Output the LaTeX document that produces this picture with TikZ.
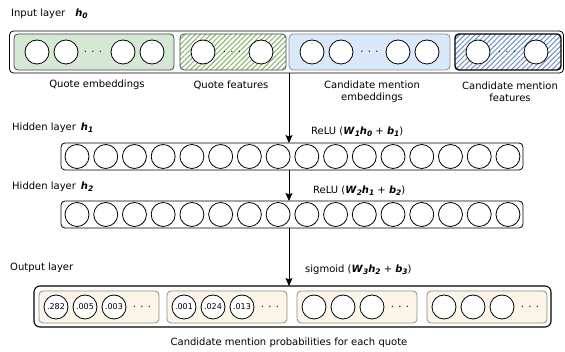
\documentclass[tikz,border=0pt]{standalone}
\usepackage{fontspec}
\setmainfont{DejaVu Sans}
\usetikzlibrary{arrows.meta,patterns.meta}
\definecolor{qgreen}{HTML}{D5E8D4}
\definecolor{hgreen}{HTML}{82B366}
\definecolor{qblue}{HTML}{DAE8FC}
\definecolor{hblue}{HTML}{6C8EBF}
\definecolor{cream}{HTML}{FDF5E8}
\definecolor{boxgray}{HTML}{8C8C8C}
\definecolor{darkline}{HTML}{444444}
\newcommand\bv[2]{\textbf{\textit{#1}}\raisebox{-0.3ex}{\fontsize{7.5}{8}\selectfont\bfseries\itshape #2}}
\begin{document}
\begin{tikzpicture}[x=1pt,y=-1pt,
  neuron/.style={circle,draw=black,line width=0.8pt,fill=white,minimum size=24pt,inner sep=0pt},
  oneuron/.style={neuron,minimum size=24pt,font=\fontsize{8}{9}\selectfont},
  lbl/.style={inner sep=0pt,font=\fontsize{10}{12}\selectfont},
  dotsnode/.style={inner sep=0pt,font=\fontsize{10}{12}\selectfont},
  panel/.style={rectangle,rounded corners=4pt,inner sep=0pt,outer sep=0pt,line width=0.8pt},
  hatchgreen/.style={pattern={Lines[angle=45,distance=3.6pt,line width=1pt]},pattern color=hgreen},
  hatchblue/.style={pattern={Lines[angle=45,distance=3.6pt,line width=1pt]},pattern color=hblue},
  flow/.style={-{Stealth[length=8pt,width=7pt,inset=1.5pt]},line width=0.8pt}
]
\useasboundingbox (0,0) rectangle (565,352);

% ---------- input layer ----------
\node[lbl,anchor=west] (inlbl) at (11,14) {Input layer\hspace{10pt}\bv{h}{0}};
\node[panel,draw=black,minimum width=554pt,minimum height=42pt] (inbox) at (286.5,52) {};
\node[panel,draw=darkline,fill=qgreen,minimum width=160pt,minimum height=36pt] (qe) at (94,52) {};
\node[panel,draw=darkline,hatchgreen,minimum width=106pt,minimum height=36pt] (qf) at (233,52) {};
\node[panel,draw=boxgray,fill=qblue,minimum width=161pt,minimum height=36pt] (ce) at (369.5,52) {};
\node[panel,draw=black,line width=1.4pt,hatchblue,minimum width=106pt,minimum height=36pt] (cf) at (508,52) {};

\foreach \x [count=\k] in {37,66,123,152} \node[neuron] (qen\k) at (\x,52) {};
\node[dotsnode] (qed) at (93,52) {. . .};
\foreach \x [count=\k] in {203,261} \node[neuron] (qfn\k) at (\x,52) {};
\node[dotsnode] (qfd) at (232,52) {. . .};
\foreach \x [count=\k] in {312,341,398,427} \node[neuron] (cen\k) at (\x,52) {};
\node[dotsnode] (ced) at (369.5,52) {. . .};
\foreach \x [count=\k] in {478,536} \node[neuron] (cfn\k) at (\x,52) {};
\node[dotsnode] (cfd) at (507,52) {. . .};

\node[lbl] (qelbl) at (97,85) {Quote embeddings};
\node[lbl] (qflbl) at (231,85) {Quote features};
\node[lbl,align=center] (celbl) at (372,91.5) {Candidate mention\\embeddings};
\node[lbl,align=center] (cflbl) at (510,91.5) {Candidate mention\\features};

% ---------- hidden layer 1 ----------
\node[lbl,anchor=west] (h1lbl) at (12,128) {Hidden layer\hspace{5pt}\bv{h}{1}};
\node[lbl,anchor=west] (r1lbl) at (311,132) {ReLU (\bv{W}{1}\bv{h}{0} + \bv{b}{1})};
\node[panel,draw=black,minimum width=462pt,minimum height=27pt] (h1) at (292,156.5) {};
\foreach \i in {0,...,15} \node[neuron] (ha\i) at ({77+28.73*\i},156.5) {};

% ---------- hidden layer 2 ----------
\node[lbl,anchor=west] (h2lbl) at (12,187) {Hidden layer\hspace{5pt}\bv{h}{2}};
\node[lbl,anchor=west] (r2lbl) at (313,191) {ReLU (\bv{W}{2}\bv{h}{1} + \bv{b}{2})};
\node[panel,draw=black,minimum width=462pt,minimum height=27pt] (h2) at (292,214.5) {};
\foreach \i in {0,...,15} \node[neuron] (hb\i) at ({77+28.73*\i},214.5) {};

% ---------- output layer ----------
\node[lbl,anchor=west] (outlbl) at (10,268) {Output layer};
\node[lbl,anchor=west] (siglbl) at (305,270) {sigmoid (\bv{W}{3}\bv{h}{2} + \bv{b}{3})};
\node[panel,draw=black,line width=1.1pt,rounded corners=6pt,minimum width=517pt,minimum height=41pt] (obox) at (292.5,306.5) {};
\foreach \l [count=\k] in {39,167,297,427} {
  \node[panel,draw=boxgray,fill=cream,minimum width=120pt,minimum height=32pt] (ob\k) at (\l+60,307) {};
  \node[dotsnode] (obd\k) at (\l+103,307) {. . .};
}
\node[oneuron] (o11) at (56,307) {.282};
\node[oneuron] (o12) at (85,307) {.005};
\node[oneuron] (o13) at (114,307) {.003};
\node[oneuron] (o21) at (184,307) {.001};
\node[oneuron] (o22) at (213,307) {.024};
\node[oneuron] (o23) at (242,307) {.013};
\node[oneuron] (o31) at (314,307) {};
\node[oneuron] (o32) at (343,307) {};
\node[oneuron] (o33) at (372,307) {};
\node[oneuron] (o41) at (444,307) {};
\node[oneuron] (o42) at (473,307) {};
\node[oneuron] (o43) at (502,307) {};

\node[lbl] (caption) at (289,343) {Candidate mention probabilities for each quote};

% ---------- connectors ----------
\coordinate (ax) at (289,0);
\draw[flow] (inbox.south -| ax) -- (h1.north -| ax);
\draw[flow] (h1.south -| ax) -- (h2.north -| ax);
\draw[flow] (h2.south -| ax) -- (obox.north -| ax);
\end{tikzpicture}
\end{document}
